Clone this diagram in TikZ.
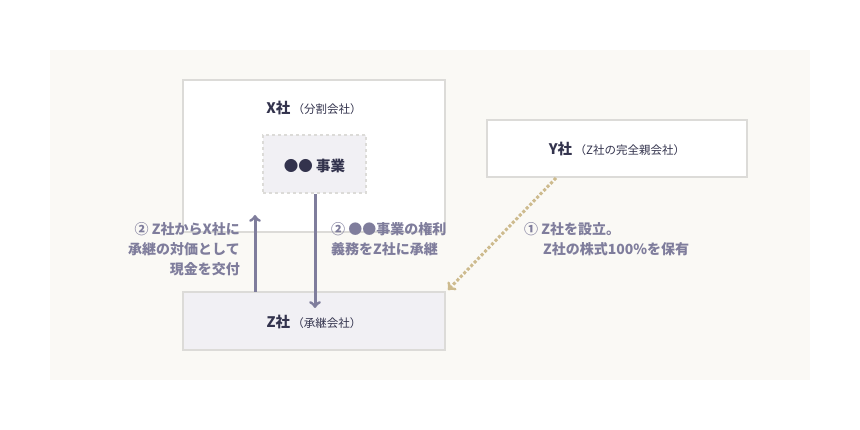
\documentclass[tikz,border=0pt]{standalone}
\usepackage{fontspec}
\setmainfont{Noto Sans CJK JP}
\definecolor{panel}{HTML}{FAF9F5}
\definecolor{frame}{HTML}{DCDBD8}
\definecolor{inner}{HTML}{F1F0F4}
\definecolor{navy}{HTML}{33334D}
\definecolor{flow}{HTML}{7F7D9C}
\definecolor{sand}{HTML}{CDBB8E}
\begin{document}
\begin{tikzpicture}
  [x=1pt,y=-1pt,
   box/.style={draw=frame,line width=2.5pt,inner sep=0pt},
   title/.style={text=navy,font=\bfseries\fontsize{14.5}{17}\selectfont},
   note/.style={text=flow,font=\bfseries\fontsize{14}{20}\selectfont,align=left,inner sep=0pt},
   flowline/.style={draw=flow,line width=3pt,-to},
  ]
  \useasboundingbox (0,0) rectangle (860,430);
  \fill[panel] (50,50) rectangle (810,380);

  \node[box,fill=white,minimum width=262pt,minimum height=152pt] (x) at (314,156) {};
  \node[box,dashed,fill=inner,minimum width=103pt,minimum height=58pt] (biz) at (314.5,164) {};
  \node[box,fill=white,minimum width=260pt,minimum height=57pt] (y) at (617,148.5) {};
  \node[box,fill=inner,minimum width=262pt,minimum height=58pt] (z) at (314,321) {};

  \node[title] (xt) at (314,108) {X社\,{\mdseries\fontsize{11.5}{13}\selectfont（分割会社）}};
  \node[title] (bt) at (314.5,166) {●●\ 事業};
  \node[title] (yt) at (617,149) {Y社\,{\mdseries\fontsize{11.5}{13}\selectfont（Z社の完全親会社）}};
  \node[title] (zt) at (314,322) {Z社\,{\mdseries\fontsize{11.5}{13}\selectfont（承継会社）}};

  \coordinate (upfrom) at (255,292);
  \coordinate (upto) at (255,215);
  \coordinate (dnto) at (315,308);
  \draw[flowline] (upfrom) -- (upto);
  \draw[flowline] (biz.south -| dnto) -- (dnto);

  \coordinate (yfoot) at (556,178);
  \coordinate (zcorner) at (448,290);
  \draw[sand,line width=3pt,dotted,-to] (yfoot) -- (zcorner);

  \node[note,align=right,anchor=north east] (pay) at (240,222) {② Z社からX社に\\承継の対価として\\現金を交付};
  \node[note,anchor=north west] (move) at (331,222) {② ●●事業の権利\\義務をZ社に承継};
  \node[note,anchor=north west] (found) at (524,222) {① Z社を設立。\\\hspace*{1.35em}Z社の株式100\%を保有};
\end{tikzpicture}
\end{document}
